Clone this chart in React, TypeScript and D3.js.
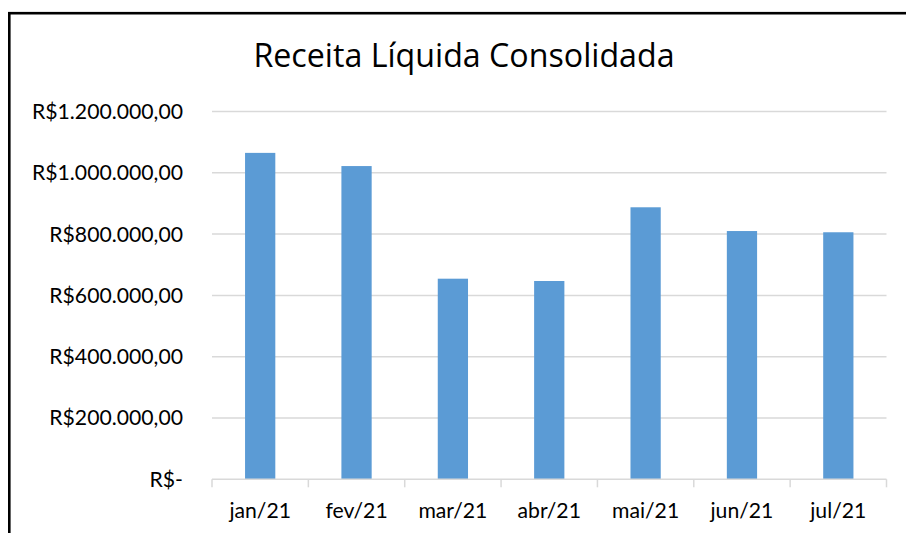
import React from "react";
import * as d3 from "d3";

const categories = ["jan/21", "fev/21", "mar/21", "abr/21", "mai/21", "jun/21", "jul/21"];
const values = [1065000, 1022000, 654500, 647000, 887500, 810000, 806000];
const yTicks = [0, 200000, 400000, 600000, 800000, 1000000, 1200000];
const title = "Receita Líquida Consolidada";

const W = 906;
const H = 533;
const left = 212;
const right = 886.5;
const top = 111.5;
const bottom = 479.3;

const locale = d3.formatLocale({ decimal: ",", thousands: ".", grouping: [3], currency: ["R$", ""] });
const fmt = locale.format("$,.2f");
const label = (v: number) => (v === 0 ? "R$-" : fmt(v));

export default function App() {
  const x = d3.scaleBand<string>().domain(categories).range([left, right]).paddingInner(0.686).paddingOuter(0.343);
  const xCat = d3.scaleBand<string>().domain(categories).range([left, right]);
  const y = d3.scaleLinear().domain([0, 1200000]).range([bottom, top]);
  const font = "Lato, 'Open Sans', sans-serif";
  const tfont = "'Open Sans', Lato, sans-serif";
  return (
    <svg width={W} height={H} style={{ position: "fixed", left: 0, top: 0, background: "#fff" }}>
      <rect x={0} y={0} width={W} height={H} fill="#fff" />
      <rect x={9.3} y={13.2} width={W + 20} height={H + 20} fill="none" stroke="#000" strokeWidth={2.6} />
      <text x={464} y={67} textAnchor="middle" fontFamily={tfont} fontSize={32.2} fill="#000">{title}</text>
      {yTicks.filter((t) => t > 0).map((t) => (
        <line key={t} x1={left} x2={right} y1={y(t)} y2={y(t)} stroke="#d9d9d9" strokeWidth={1.5} />
      ))}
      {yTicks.map((t) => (
        <text key={"l" + t} x={183} y={y(t)} dy="0.35em" textAnchor="end" fontFamily={font} fontSize={21.2} fill="#000">
          {label(t)}
        </text>
      ))}
      {categories.map((c, i) => (
        <rect key={c} x={x(c)} y={y(values[i])} width={x.bandwidth()} height={bottom - y(values[i])} fill="#5b9bd5" />
      ))}
      <line x1={left} x2={right} y1={bottom} y2={bottom} stroke="#d9d9d9" strokeWidth={1.5} />
      {categories.map((c) => (
        <line key={"t" + c} x1={xCat(c)} x2={xCat(c)} y1={bottom} y2={bottom + 8} stroke="#d9d9d9" strokeWidth={1.5} />
      ))}
      <line x1={right} x2={right} y1={bottom} y2={bottom + 8} stroke="#d9d9d9" strokeWidth={1.5} />
      {categories.map((c) => (
        <text key={"c" + c} x={(xCat(c) as number) + xCat.bandwidth() / 2} y={518} textAnchor="middle" fontFamily={font} fontSize={21.2} fill="#000">
          {c}
        </text>
      ))}
    </svg>
  );
}
